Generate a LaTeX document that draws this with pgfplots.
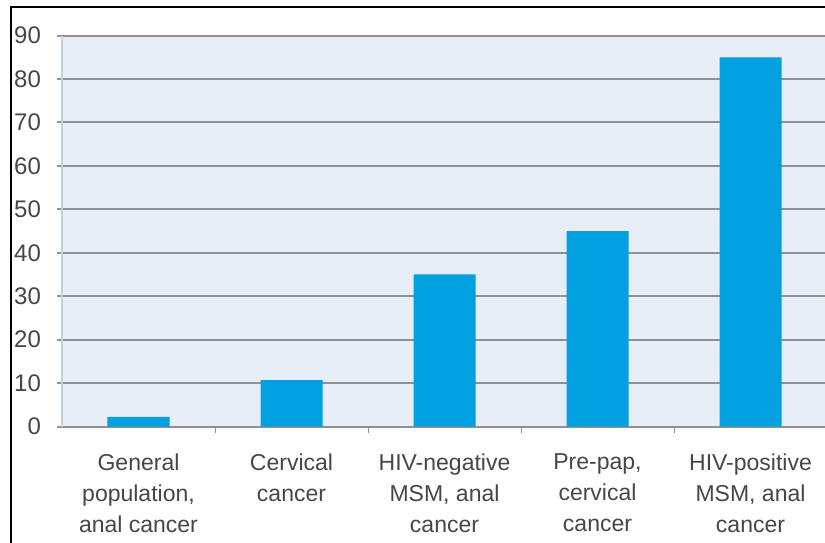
\documentclass[border=0pt]{standalone}
\usepackage{pgfplots}
\pgfplotsset{compat=1.18}
\usepackage{fontspec}
\setmainfont{Liberation Sans}

\definecolor{barblue}{RGB}{0,160,225}
\definecolor{plotbg}{RGB}{232,238,248}
\definecolor{gridgray}{RGB}{145,145,148}
\definecolor{axisgray}{RGB}{200,208,220}
\definecolor{txtgray}{RGB}{70,70,70}

\begin{document}
\begin{tikzpicture}
% page frame (1px = 0.5pt)
\useasboundingbox (0,0) rectangle (412.5pt,-271pt);
\draw[line width=1pt, black] (5.5pt,-272pt) -- (5.5pt,-3.5pt) -- (414pt,-3.5pt);

\begin{axis}[
  at={(31pt,-213.25pt)}, anchor=south west,
  scale only axis, width=382.5pt, height=195.5pt,
  xmin=-0.5, xmax=4.5, ymin=0, ymax=90,
  axis background/.style={fill=plotbg},
  axis lines*=left,
  x axis line style={gridgray, line width=1pt},
  y axis line style={axisgray, line width=1pt},
  ytick={0,10,...,90},
  ymajorgrids,
  grid style={gridgray, line width=1pt},
  tick align=outside,
  y tick style={gridgray, line width=1pt},
  major tick length=2.5pt,
  xtick={0,1,2,3,4},
  xticklabels={{General\\population,\\anal cancer},{Cervical\\cancer},{HIV-negative\\MSM, anal\\cancer},{Pre-pap,\\cervical\\cancer},{HIV-positive\\MSM, anal\\cancer}},
  major x tick style={draw=none},
  minor xtick={0.5,1.5,2.5,3.5,4.5},
  minor x tick style={gridgray, line width=0.5pt},
  minor tick length=3pt,
  /pgf/number format/assume math mode=true,
  yticklabel style={font=\fontsize{12}{14}\selectfont, text=txtgray, anchor=east, xshift=-4.5pt},
  xticklabel style={font=\fontsize{11.5}{15.5}\selectfont, text=txtgray, align=center, anchor=north, yshift=-7.5pt},
  ybar, bar width=31pt,
]
\addplot[fill=barblue, draw=none] coordinates {(0,2.2) (1,10.7) (2,35) (3,45) (4,85)};
\end{axis}
\end{tikzpicture}
\end{document}
